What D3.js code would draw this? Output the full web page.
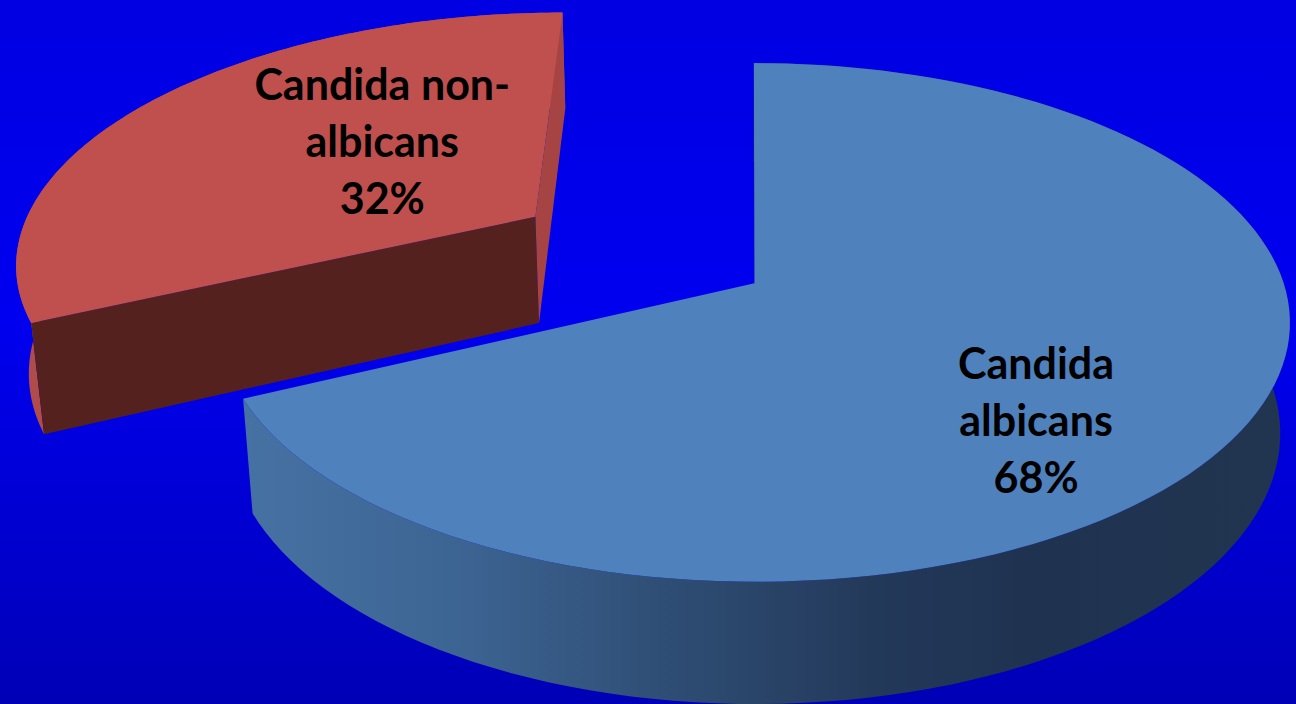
<!DOCTYPE html>
<html>
<head>
<meta charset="utf-8">
<script src="https://cdn.jsdelivr.net/npm/d3@7"></script>
<style>
  html, body { margin: 0; padding: 0; overflow: hidden; background: #0000e6; }
  svg { display: block; }
</style>
</head>
<body>
<svg id="chart" width="1296" height="704"></svg>
<script>
// chart data
const categories = ['Candida albicans', 'Candida non-albicans'];
const labelLines = [['Candida', 'albicans'], ['Candida non-', 'albicans']];
const values = [68, 32];

// look of each slice
const topColors = ['#4f81bd', '#c0504d'];
const startFaceColors = ['#1f3550', '#54211f'];
const endFaceColors = ['#1f3550', '#a54442'];
const explodeBy = [0.01, 0.50];
const labelRadius = [0.70, 0.48];

const width = 1296;
const height = 704;

// simple perspective camera over a unit-radius pie
const tilt = 27.4 * Math.PI / 180;
const sinA = Math.sin(tilt);
const cosA = Math.cos(tilt);
const dist = 5.9;
const fx = 3120;
const fy = 3244;
const cx = 750;
const cy = 282;
const thick = 0.228;

function project(u, v, w) {
  const yc = v * sinA + w * cosA;
  const zc = dist + v * cosA - w * sinA;
  return [cx + fx * u / zc, cy - fy * yc / zc];
}

const svg = d3.select('#chart');
const defs = svg.append('defs');

const bg = defs.append('linearGradient')
  .attr('id', 'bg')
  .attr('x1', 0).attr('y1', 0).attr('x2', 0).attr('y2', 1);
bg.append('stop').attr('offset', '0%').attr('stop-color', '#0000e2');
bg.append('stop').attr('offset', '45%').attr('stop-color', '#0000f0');
bg.append('stop').attr('offset', '100%').attr('stop-color', '#0000b6');

svg.append('rect')
  .attr('width', width)
  .attr('height', height)
  .attr('fill', 'url(#bg)');

// outer wall shading, lighter on the left, dark on the right
const wallStops = [
  [['0%', '#4672a3'], ['20%', '#3d6594'], ['40%', '#2f4e75'], ['60%', '#23395a'], ['75%', '#1f3250'], ['100%', '#213550']],
  [['0%', '#b04c49'], ['100%', '#a84845']]
];
wallStops.forEach((stops, i) => {
  const g = defs.append('linearGradient')
    .attr('id', `wall-${i}`)
    .attr('gradientUnits', 'userSpaceOnUse')
    .attr('x1', i === 0 ? 240 : 0).attr('x2', i === 0 ? 1296 : 600)
    .attr('y1', 0).attr('y2', 0);
  stops.forEach(s => g.append('stop').attr('offset', s[0]).attr('stop-color', s[1]));
});

const pie = d3.pie().sort(null).startAngle(0).endAngle(2 * Math.PI);
const arcs = pie(values);
const total = d3.sum(values);

const line = d3.line().curve(d3.curveLinearClosed);

function area(pts) {
  let s = 0;
  for (let i = 0; i < pts.length; i++) {
    const a = pts[i];
    const b = pts[(i + 1) % pts.length];
    s += a[0] * b[1] - b[0] * a[1];
  }
  return s / 2;
}

const slices = arcs.map((a, i) => {
  const mid = (a.startAngle + a.endAngle) / 2;
  const ox = explodeBy[i] * Math.sin(mid);
  const oy = explodeBy[i] * Math.cos(mid);
  const steps = d3.range(0, 121).map(k => a.startAngle + (a.endAngle - a.startAngle) * k / 120);
  const rimTop = steps.map(t => project(ox + Math.sin(t), oy + Math.cos(t), 0));
  const rimBot = steps.map(t => project(ox + Math.sin(t), oy + Math.cos(t), -thick));
  const apexTop = project(ox, oy, 0);
  const apexBot = project(ox, oy, -thick);
  return { a, i, mid, ox, oy, rimTop, rimBot, apexTop, apexBot };
});

// draw the exploded (back) slice first
const order = [1, 0];

order.forEach((idx) => {
  const s = slices[idx];
  const g = svg.append('g').attr('class', `slice slice-${idx}`);

  // outer wall
  g.append('path')
    .attr('d', line(s.rimTop.concat(s.rimBot.slice().reverse())))
    .attr('fill', `url(#wall-${idx})`);

  // two cut faces, only the ones turned toward the viewer
  const n = s.rimTop.length - 1;
  const faces = [
    { pts: [s.apexTop, s.rimTop[0], s.rimBot[0], s.apexBot], color: startFaceColors[idx] },
    { pts: [s.apexTop, s.apexBot, s.rimBot[n], s.rimTop[n]], color: endFaceColors[idx] }
  ];
  faces.forEach((f) => {
    if (area(f.pts) < 0) {
      g.append('path')
        .attr('d', line(f.pts))
        .attr('fill', f.color);
    }
  });

  // top
  g.append('path')
    .attr('d', line([s.apexTop].concat(s.rimTop)))
    .attr('fill', topColors[idx]);
});

// labels
const lineGap = 57;
slices.forEach((s) => {
  const ang = s.mid + 13 * Math.PI / 180;
  const r = labelRadius[s.i];
  const p = project(s.ox + r * Math.sin(ang), s.oy + r * Math.cos(ang), 0);
  const pct = Math.round(values[s.i] / total * 100) + '%';
  const rows = labelLines[s.i].concat([pct]);
  const t = svg.append('text')
    .attr('class', 'label')
    .attr('text-anchor', 'middle')
    .attr('font-family', 'Lato, "Open Sans", sans-serif')
    .attr('font-weight', 700)
    .attr('font-size', 43)
    .attr('fill', '#000');
  rows.forEach((row, k) => {
    t.append('tspan')
      .attr('x', p[0])
      .attr('y', p[1] + 16 + (k - 1) * lineGap)
      .text(row);
  });
});
</script>
</body>
</html>
